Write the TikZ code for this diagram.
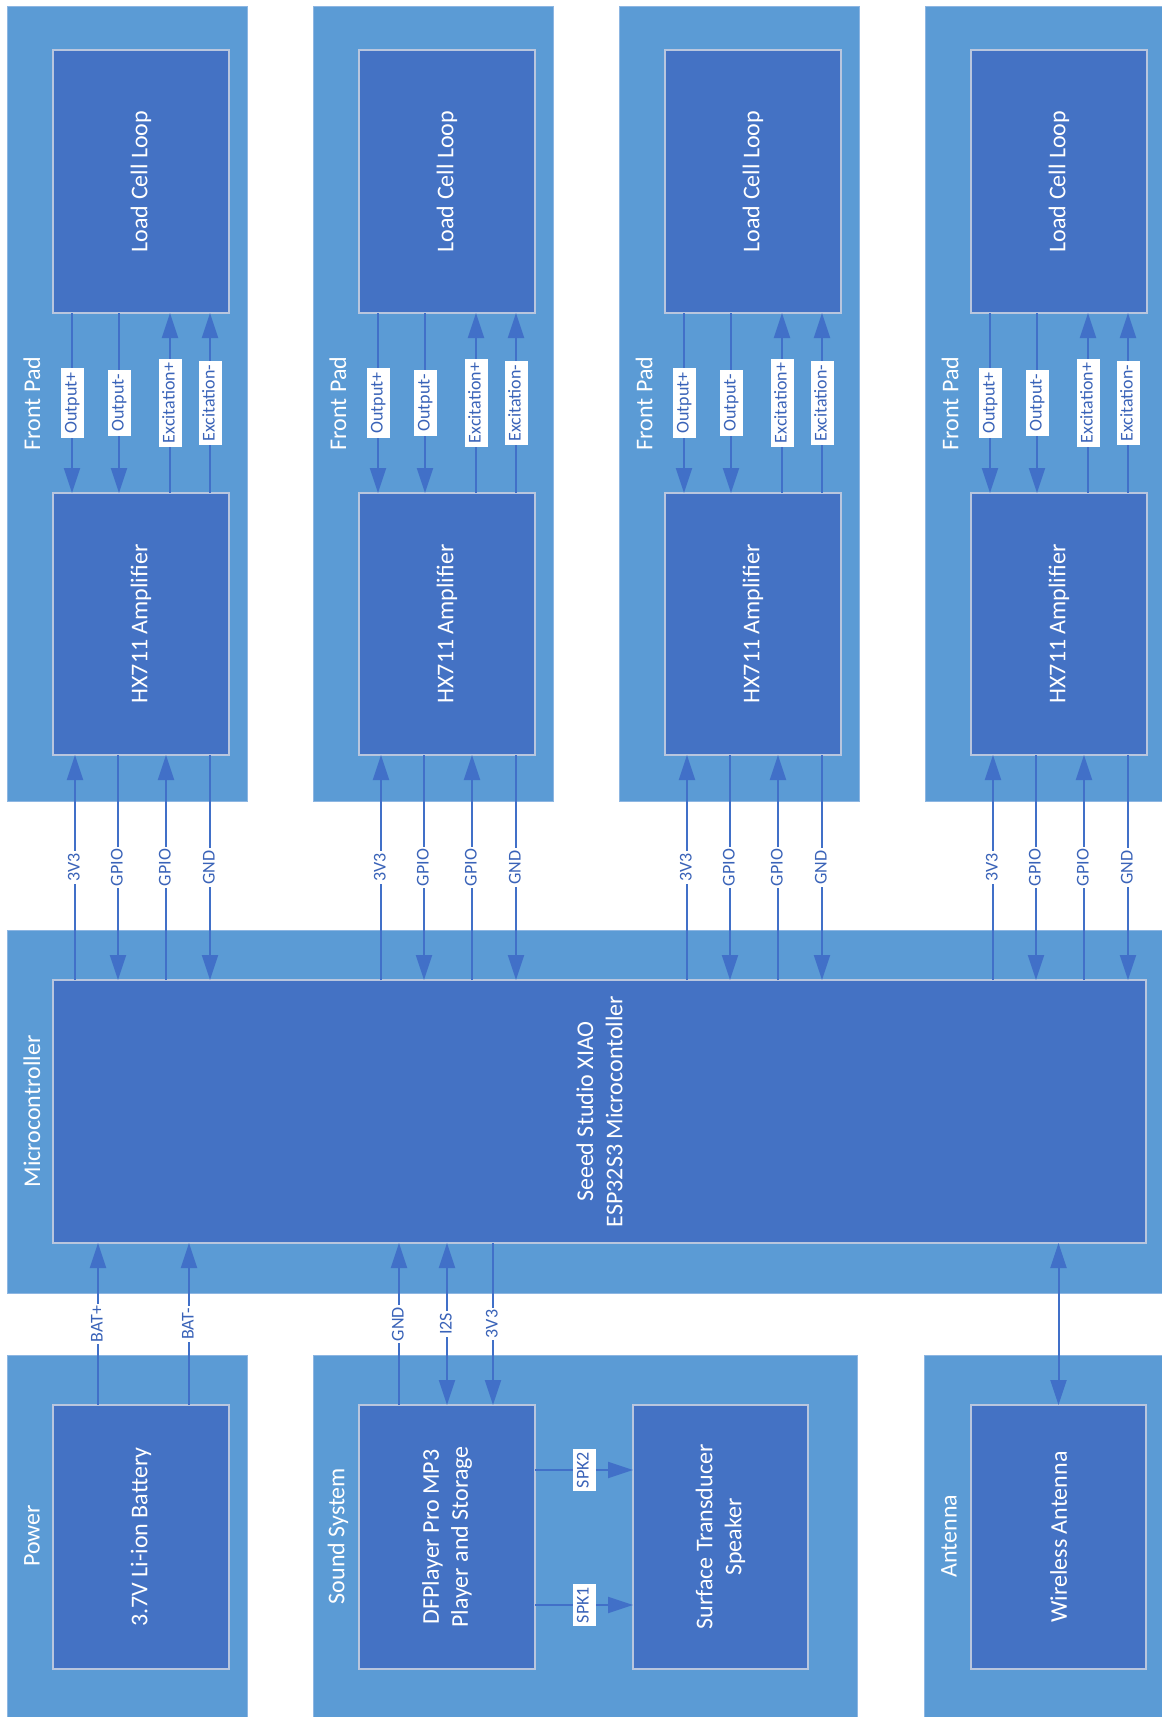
\documentclass[tikz,border=0pt]{standalone}
\usepackage{fontspec}
\setmainfont{Carlito}
\usetikzlibrary{arrows.meta}
\definecolor{outerc}{HTML}{5B9BD5}
\definecolor{innerc}{HTML}{4472C4}
\definecolor{linec}{HTML}{4170C8}
\definecolor{lblc}{HTML}{3A63B8}
\definecolor{bordc}{HTML}{B9C6DE}
\definecolor{gbord}{HTML}{8DB6E2}
\tikzset{
  grp/.style={fill=outerc, draw=gbord, line width=1pt, inner sep=0pt, outer sep=0pt},
  blk/.style={fill=innerc, draw=bordc, line width=1.5pt, inner sep=0pt, outer sep=0pt},
  btxt/.style={rotate=90, text=white, font=\fontsize{24}{29}\selectfont, align=center, inner sep=0pt},
  gtxt/.style={rotate=90, text=white, font=\fontsize{24}{29}\selectfont, inner sep=0pt},
  wire/.style={draw=linec, line width=2pt},
  lbl/.style={rotate=90, fill=white, text=lblc, font=\fontsize{18}{21}\selectfont,
    inner xsep=4pt, inner ysep=3pt, text height=13pt, text depth=4pt},
  lblw/.style={rotate=90, fill=white, text=lblc, font=\fontsize{18}{21}\selectfont,
    inner xsep=2pt, inner ysep=2pt, text height=13pt, text depth=4pt},
  >={Triangle[length=25pt,width=16pt]}
}
\begin{document}
\begin{tikzpicture}[x=1pt,y=-1pt]
\useasboundingbox (0,0) rectangle (1162,1717);
\clip (0,0) rectangle (1162,1717);
\fill[white] (0,0) rectangle (1162,1717);

% front pads: group boxes and blocks
\foreach \i/\L in {1/53,2/359,3/665,4/971} {
  \node[grp, minimum width=240pt, minimum height=795pt] (pad\i) at (\L+74, 403.5) {};
  \node[gtxt] (fp\i) at (\L-21, 403.5) {Front Pad};
  \node[blk, minimum width=176pt, minimum height=263pt] (lc\i) at (\L+88, 181.5) {};
  \node[btxt] (lct\i) at (lc\i) {Load Cell Loop};
  \node[blk, minimum width=176pt, minimum height=262pt] (hx\i) at (\L+88, 624) {};
  \node[btxt] (hxt\i) at (hx\i) {HX711 Amplifier};
}

% microcontroller
\node[grp, minimum width=1185pt, minimum height=363pt] (mcg) at (599.5, 1111.5) {};
\node[gtxt] (mcgt) at (32, 1111.5) {Microcontroller};
\node[blk, minimum width=1093pt, minimum height=263pt] (mc) at (599.5, 1111.5) {};
\node[btxt] (mct) at (mc) {Seeed Studio XIAO\\ESP32S3 Microcontoller};

% lower groups
\node[grp, minimum width=240pt, minimum height=400pt] (pwg) at (127, 1555) {};
\node[gtxt] (pwgt) at (32, 1536) {Power};
\node[blk, minimum width=176pt, minimum height=264pt] (bat) at (141, 1537) {};
\node[btxt] (batt) at (bat) {3.7V Li-ion Battery};

\node[grp, minimum width=544pt, minimum height=400pt] (sdg) at (585, 1555) {};
\node[gtxt] (sdgt) at (338, 1536) {Sound System};
\node[blk, minimum width=176pt, minimum height=264pt] (dfp) at (447, 1537) {};
\node[btxt] (dfpt) at (dfp) {DFPlayer Pro MP3\\Player and Storage};
\node[blk, minimum width=175pt, minimum height=264pt] (spk) at (720.5, 1537) {};
\node[btxt] (spkt) at (spk) {Surface Transducer\\Speaker};

\node[grp, minimum width=280pt, minimum height=400pt] (ang) at (1064, 1555) {};
\node[gtxt] (angt) at (949, 1536) {Antenna};
\node[blk, minimum width=175pt, minimum height=264pt] (ant) at (1058.5, 1537) {};
\node[btxt] (antt) at (ant) {Wireless Antenna};

% wires inside pads and to the microcontroller
\foreach \i in {1,2,3,4} {
  \draw[wire,->] ([xshift=19pt]lc\i.south west) -- ([xshift=19pt]hx\i.north west)
     node[lbl, midway] (opa\i) {Output+};
  \draw[wire,->] ([xshift=66pt]lc\i.south west) -- ([xshift=66pt]hx\i.north west)
     node[lbl, midway] (opb\i) {Output-};
  \draw[wire,->] ([xshift=117pt]hx\i.north west) -- ([xshift=117pt]lc\i.south west)
     node[lbl, midway] (exa\i) {Excitation+};
  \draw[wire,->] ([xshift=157pt]hx\i.north west) -- ([xshift=157pt]lc\i.south west)
     node[lbl, midway] (exb\i) {Excitation-};
  \draw[wire,->] ([xshift=22pt]hx\i.south west |- mc.north) -- ([xshift=22pt]hx\i.south west)
     node[lblw, midway] (pw\i) {3V3};
  \draw[wire,->] ([xshift=65pt]hx\i.south west) -- ([xshift=65pt]hx\i.south west |- mc.north)
     node[lblw, midway] (ga\i) {GPIO};
  \draw[wire,->] ([xshift=113pt]hx\i.south west |- mc.north) -- ([xshift=113pt]hx\i.south west)
     node[lblw, midway] (gb\i) {GPIO};
  \draw[wire,->] ([xshift=157pt]hx\i.south west) -- ([xshift=157pt]hx\i.south west |- mc.north)
     node[lblw, midway] (gn\i) {GND};
}

% battery
\draw[wire,->] ([xshift=45pt]bat.north west) -- ([xshift=45pt]bat.north west |- mc.south)
   node[lblw, midway] (bp) {BAT+};
\draw[wire,->] ([xshift=136pt]bat.north west) -- ([xshift=136pt]bat.north west |- mc.south)
   node[lblw, midway] (bm) {BAT-};

% sound
\draw[wire,->] ([xshift=40pt]dfp.north west) -- ([xshift=40pt]dfp.north west |- mc.south)
   node[lblw, midway] (sg) {GND};
\draw[wire,<->] ([xshift=88pt]dfp.north west) -- ([xshift=88pt]dfp.north west |- mc.south)
   node[lblw, midway] (si) {I2S};
\draw[wire,->] ([xshift=134pt]dfp.north west |- mc.south) -- ([xshift=134pt]dfp.north west)
   node[lblw, midway] (sv) {3V3};
\draw[wire,->] ([yshift=-65pt]dfp.north east) -- ([yshift=-65pt]dfp.north east -| spk.west)
   node[lbl, midway, inner xsep=3pt] (s2) {SPK2};
\draw[wire,->] ([yshift=-200pt]dfp.north east) -- ([yshift=-200pt]dfp.north east -| spk.west)
   node[lbl, midway, inner xsep=3pt] (s1) {SPK1};

% antenna
\draw[wire,<->] (ant.north) -- (ant.north |- mc.south);
\end{tikzpicture}
\end{document}
